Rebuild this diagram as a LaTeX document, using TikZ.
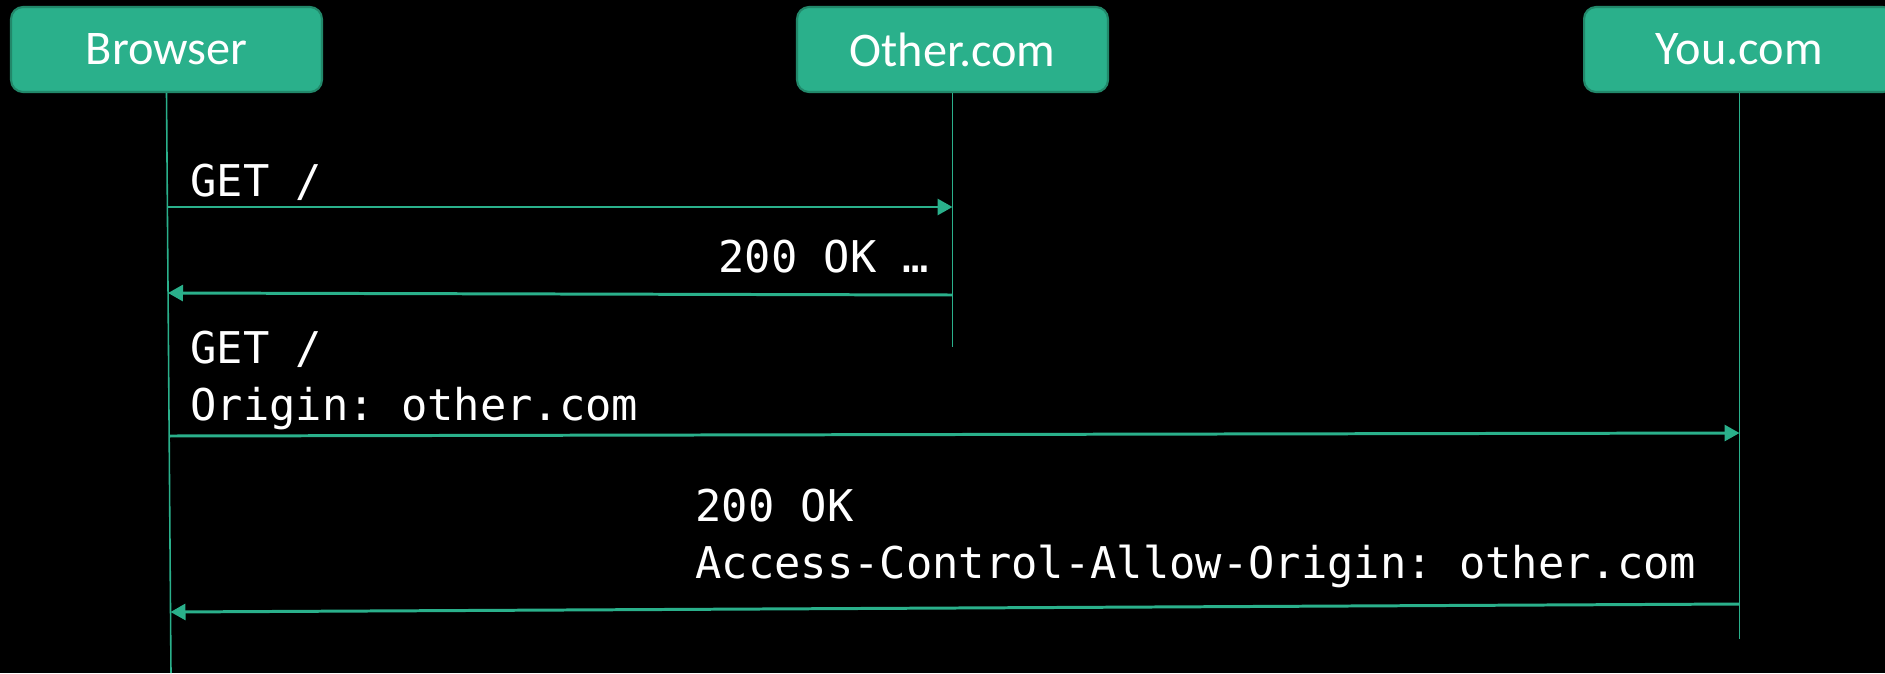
\documentclass[tikz,border=0pt]{standalone}
\usepackage{fontspec}
\setmainfont{Carlito}
\setmonofont{DejaVu Sans Mono}
\usetikzlibrary{arrows.meta}
\definecolor{boxgreen}{RGB}{42,176,139}
\definecolor{boxedge}{RGB}{34,136,106}

\begin{document}
\begin{tikzpicture}[x=0.02cm, y=-0.02cm,
  party/.style={draw=boxedge, line width=1.2pt, fill=boxgreen, rounded corners=0.24cm,
    minimum width=6.22cm, minimum height=1.7cm, inner sep=0pt, text=white,
    font=\fontsize{27.5}{30}\selectfont},
  life/.style={draw=boxgreen, line width=0.9pt},
  msg/.style={draw=boxgreen, line width=1.7pt, -{Triangle[length=0.3cm, width=0.32cm]}},
  txt/.style={anchor=base west, inner sep=0pt, text=white, align=left,
    font=\ttfamily\fontsize{24.9}{32.3}\selectfont}]

  % background
  \fill[black] (0,0) rectangle (1885,673);
  \useasboundingbox (0,0) rectangle (1885,673);

  % parties
  \node[party] (browser) at (166.5,49.5) {Browser};
  \node[party] (other) at (952.5,49.5) {Other.com};
  \node[party] (you) at (1739.5,49.5) {You.com};

  % lifelines
  \coordinate (browserend) at (171,673);
  \coordinate (otherend) at (952.5,347);
  \coordinate (youend) at (1739.5,639);
  \draw[life] (browser.south) -- (browserend);
  \draw[life] (other.south) -- (otherend);
  \draw[life] (you.south) -- (youend);

  % Browser <-> Other.com
  \coordinate (b1) at (167.4,207);
  \coordinate (o1) at (952.5,207);
  \coordinate (o2) at (952.5,295);
  \coordinate (b2) at (168,293);
  \draw[msg] (b1) -- (o1);
  \draw[msg] (o2) -- (b2);
  \node[txt] (get1) at (190,196) {GET /};
  \node[txt] (ok1) at (718,272) {200 OK …};

  % Browser <-> You.com (base anchor sits on the last line)
  \coordinate (b3) at (169.2,436);
  \coordinate (y3) at (1739.5,433);
  \coordinate (y4) at (1739.5,604);
  \coordinate (b4) at (170.5,612);
  \draw[msg] (b3) -- (y3);
  \draw[msg] (y4) -- (b4);
  \node[txt] (get2) at (190,420) {GET /\\Origin: other.com};
  \node[txt] (ok2) at (695,578) {200 OK\\Access-Control-Allow-Origin: other.com};

\end{tikzpicture}
\end{document}
